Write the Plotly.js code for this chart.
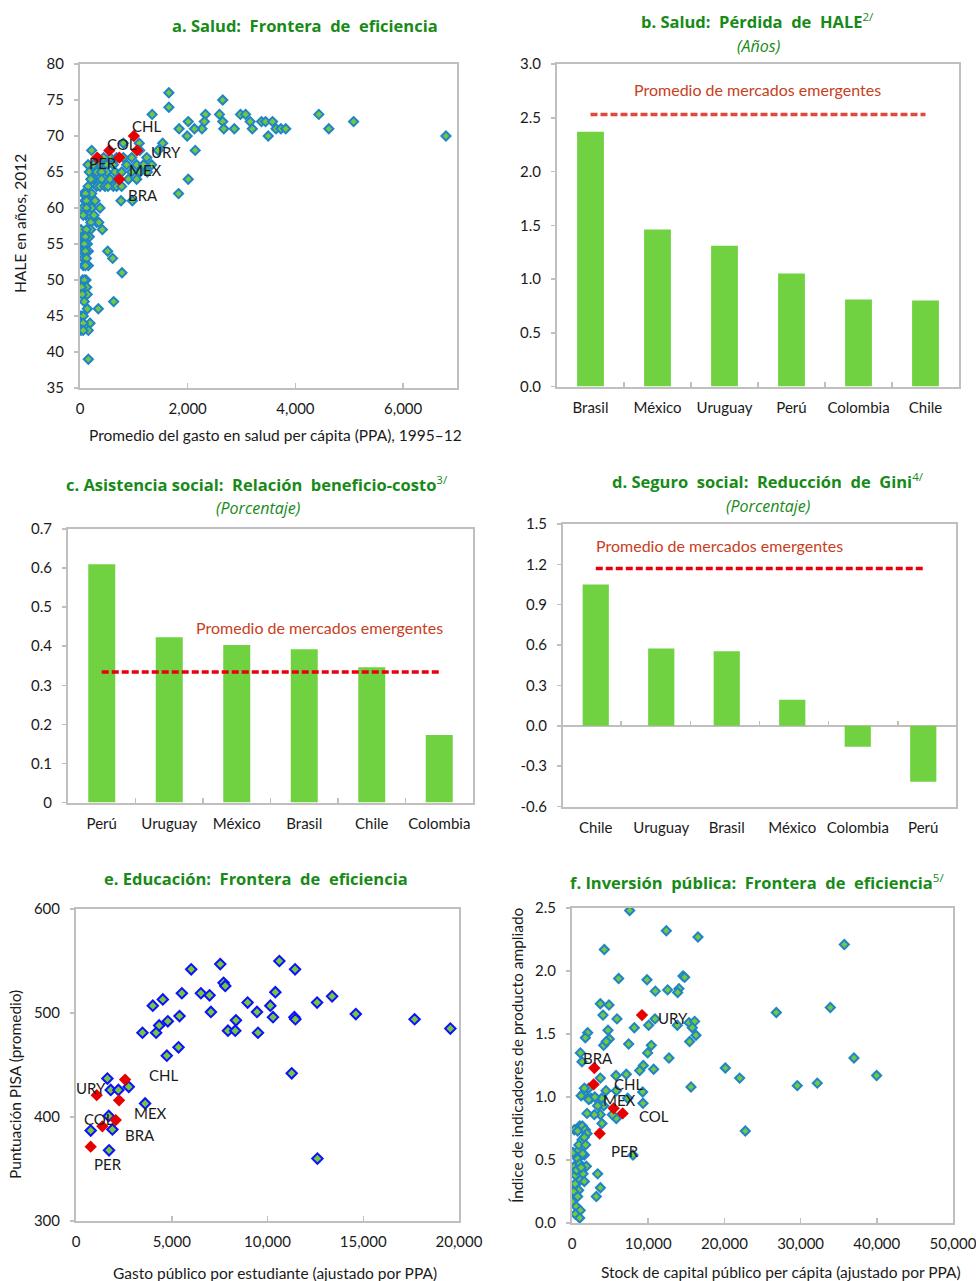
<!DOCTYPE html>
<html>
<head>
<meta charset="utf-8">
<script src="https://cdn.plot.ly/plotly-3.0.1.min.js"></script>
<style>html,body{margin:0;padding:0;background:#fff}</style>
</head>
<body>
<div id="chart" style="width:976px;height:1281px"></div>
<script>
// ---------------- a. Salud: frontera de eficiencia ----------------
const healthSpend = [1650,1650,1340,2650,2590,2330,2310,2010,2265,2125,1840,1990,2140,2010,1830,2650,2670,2865,2980,3075,3160,3200,3370,3445,3575,3495,3640,3730,3820,4435,4620,5080,6795,1535,1450,1100,1110,1240,1330,
  805,217,960,557,805,440,680,
  371,495,619,867,1052,1180,250,150,
  173,310,495,650,774,960,1114,400,1250,
  248,402,557,898,1052,700,200,
  310,371,464,619,681,774,150,520,
  136,217,62,100,
  93,173,279,761,972,120,
  50,217,371,120,
  111,186,260,60,
  310,350,200,
  19,198,415,120,
  50,173,100,
  31,136,80,
  50,155,514,100,
  62,607,120,
  62,155,100,
  780,
  111,50,80,
  80,124,30,
  62,136,40,
  80,625,
  136,340,
  19,60,
  19,186,60,
  19,155,60,
  155];
const healthHale = [76,74,73,75,73,73,72,72,71,71,71,70,68,64,62,72,71,71,73,73,72,71,72,72,72,70,71,71,71,73,71,72,70,69,68,69,68,67,66,
  69,68,67,67,67,67,67,
  66,66,66,66,66,66,66,66,
  65,65,65,65,65,65,65,65,65,
  64,64,64,64,64,64,64,
  63,63,63,63,63,63,63,63,
  62,62,62,62,
  61,61,61,61,61,61,
  60,60,60,60,
  59,59,59,59,
  58,58,58,
  57,57,57,57,
  56,56,56,
  55,55,55,
  54,54,54,54,
  53,53,53,
  52,52,52,
  51,
  50,50,50,
  49,49,49,
  48,48,48,
  47,47,
  46,46,
  45,45,
  44,44,44,
  43,43,43,
  39];
const healthCodes = ['CHL','COL','URY','PER','MEX','BRA'];
const healthLatamSpend = [1000,545,1060,320,730,730];
const healthLatamHale = [70,68,68,67,67,64];

// ---------------- b. Salud: pérdida de HALE ----------------
const haleCountries = ['Brasil','México','Uruguay','Perú','Colombia','Chile'];
const haleLoss = [2.37,1.46,1.31,1.05,0.81,0.80];
const haleEmAvg = 2.53;

// ---------------- c. Asistencia social ----------------
const assistCountries = ['Perú','Uruguay','México','Brasil','Chile','Colombia'];
const assistRatio = [0.61,0.423,0.403,0.392,0.346,0.173];
const assistEmAvg = 0.334;

// ---------------- d. Seguro social ----------------
const giniCountries = ['Chile','Uruguay','Brasil','México','Colombia','Perú'];
const giniReduction = [1.05,0.575,0.555,0.193,-0.156,-0.416];
const giniEmAvg = 1.17;

// ---------------- e. Educación: frontera de eficiencia ----------------
const eduSpend = [1639,1813,2214,2755,3609,1709,767,1901,1726,3470,4010,4534,4185,4342,4795,4743,5353,5405,5527,6016,6521,6975,7045,7533,7707,7794,7934,8352,8317,8962,9451,9503,10148,10619,10410,10288,11439,11404,11456,11264,12589,12607,13374,14612,17681,19547];
const eduPisa = [437,426,426,429,413,401,387,388,368,481,507,513,481,488,492,459,467,497,519,542,519,517,501,547,529,526,483,493,483,510,501,481,507,550,520,496,542,496,494,442,510,360,516,499,494,485];
const eduCodes = ['CHL','URY','MEX','COL','BRA','PER'];
const eduLatamSpend = [2563,1081,2249,1377,2075,767];
const eduLatamPisa = [436,421,416,391,397,371.5];

// ---------------- f. Inversión pública: frontera de eficiencia ----------------
const capStock = [7567,12378,16534,4243,35736,6124,9842,14565,14785,10935,12553,14041,13866,3718,4855,4068,5905,10891,10060,8180,13822,15353,16096,15790,16272,15440,7436,4724,4899,4155,4500,2056,1750,1094,1312,10410,9929,9360,8879,10716,12729,7130,5774,3718,20120,22001,37004,39978,29568,32192,33898,26813,15616,22745,9273,9316,7305,5818,4461,3893,4155,3718,3937,5818,5293,2931,3368,1968,2493,1531,2187,1619,1200,2200,3000,8004,3368,3193,3718,
  306,1006,744,1356,1750,1968,1312,1619,131,875,1619,744,306,1006,1881,1443,437,1094,1619,875,219,744,0,569,1094,437,1006,600,1200,400,900,1400,1800];
const outputIndex = [2.48,2.32,2.27,2.17,2.21,1.94,1.93,1.96,1.95,1.84,1.85,1.86,1.83,1.74,1.73,1.65,1.62,1.62,1.57,1.55,1.57,1.59,1.60,1.55,1.49,1.44,1.42,1.53,1.46,1.41,1.44,1.51,1.47,1.35,1.28,1.41,1.35,1.25,1.21,1.22,1.31,1.18,1.17,1.15,1.23,1.15,1.31,1.17,1.09,1.11,1.71,1.67,1.08,0.73,1.04,0.95,0.99,1.05,1.05,0.99,0.93,0.86,0.79,0.83,0.86,0.86,0.93,0.87,0.99,1.03,1.07,1.07,1.01,0.98,1.00,0.54,0.39,0.21,0.28,
  0.74,0.77,0.73,0.77,0.74,0.71,0.66,0.68,0.56,0.58,0.54,0.51,0.45,0.47,0.45,0.39,0.38,0.34,0.33,0.26,0.25,0.21,0.17,0.13,0.10,0.07,0.04,0.42,0.44,0.31,0.62,0.55,0.62];
const capCodes = ['URY','BRA','CHL','MEX','COL','PER'];
const capLatamStock = [9185,2931,2843,5468,6649,3631];
const capLatamIndex = [1.65,1.23,1.10,0.91,0.87,0.71];

// ---------------- styling ----------------
const W = 976, H = 1281;
const TICK_FONT = 'Lato, "Open Sans", sans-serif';
const TITLE_FONT = '"Open Sans", "Noto Sans", sans-serif';
const GREEN_TITLE = '#178a17';
const BAR_GREEN = '#70d240';
const DIAMOND_FILL = '#72c83e';
const FRAME = '#bfbfbf';
const NOTE_RED = '#c8401e';

const px = (l, r) => [l / W, r / W];
const py = (top, bottom) => [1 - bottom / H, 1 - top / H];

function axisBase(extra) {
  return Object.assign({
    showline: true, mirror: true, linecolor: FRAME, linewidth: 2,
    showgrid: false, zeroline: false,
    tickfont: {family: TICK_FONT, size: 15, color: '#1a1a1a'},
    ticks: 'outside', ticklen: 4, tickcolor: FRAME, tickwidth: 1.5,
    ticklabeloverflow: 'allow',
    fixedrange: true
  }, extra);
}
function catAxis(domain, anchor) {
  return axisBase({domain, anchor, type: 'category', tickangle: 0, ticks: 'inside', tickson: 'boundaries', ticklen: 5, ticklabelstandoff: 6});
}
function numXAxis(domain, anchor, range, dtick) {
  return axisBase({domain, anchor, range, dtick, tick0: 0, ticks: 'inside', ticklen: 5, tickformat: ',', ticklabelstandoff: 6});
}
function numYAxis(domain, anchor, range, dtick, fmt) {
  const vals = [];
  for (let v = range[0]; v <= range[1] + 1e-9; v += dtick) vals.push(Math.round(v * 1000) / 1000);
  const txt = vals.map(v => fmt ? v.toFixed(fmt) : String(v));
  return axisBase({domain, anchor, range, tickvals: vals, ticktext: txt, ticklabelstandoff: 7});
}

function blueDiamonds(x, y, xa, ya, border, size) {
  return {type: 'scatter', mode: 'markers', x, y, xaxis: xa, yaxis: ya, hoverinfo: 'skip',
    marker: {symbol: 'diamond', size: size, color: DIAMOND_FILL, line: {color: border, width: 2}}};
}
function redDiamonds(x, y, xa, ya) {
  return {type: 'scatter', mode: 'markers', x, y, xaxis: xa, yaxis: ya, hoverinfo: 'skip',
    marker: {symbol: 'diamond', size: 9.5, color: '#e60000', line: {width: 0}}};
}
function bars(cats, vals, xa, ya) {
  return {type: 'bar', x: cats, y: vals, xaxis: xa, yaxis: ya, marker: {color: BAR_GREEN}, hoverinfo: 'skip'};
}
function avgLine(cats, avg, xa, ya, color) {
  return {type: 'scatter', mode: 'lines', x: cats, y: cats.map(() => avg), xaxis: xa, yaxis: ya,
    line: {color, width: 3.5, dash: '7px,3px'}, hoverinfo: 'skip'};
}

const data = [
  blueDiamonds(healthSpend, healthHale, 'x', 'y', '#1f84c8', 7),
  redDiamonds(healthLatamSpend, healthLatamHale, 'x', 'y'),
  bars(haleCountries, haleLoss, 'x2', 'y2'),
  avgLine(haleCountries, haleEmAvg, 'x2', 'y2', '#e04a3e'),
  bars(assistCountries, assistRatio, 'x3', 'y3'),
  avgLine(assistCountries, assistEmAvg, 'x3', 'y3', '#e8000e'),
  bars(giniCountries, giniReduction, 'x4', 'y4'),
  avgLine(giniCountries, giniEmAvg, 'x4', 'y4', '#e8000e'),
  // carries the category ticks that sit on the zero line of panel d
  {type: 'scatter', mode: 'markers', x: giniCountries, y: giniCountries.map(() => null), xaxis: 'x7', yaxis: 'y4', hoverinfo: 'skip', showlegend: false},
  blueDiamonds(eduSpend, eduPisa, 'x5', 'y5', '#1010ff', 8),
  redDiamonds(eduLatamSpend, eduLatamPisa, 'x5', 'y5'),
  blueDiamonds(capStock, outputIndex, 'x6', 'y6', '#1f84c8', 7),
  redDiamonds(capLatamStock, capLatamIndex, 'x6', 'y6')
];

function paperText(text, x, y, font, extra) {
  return Object.assign({xref: 'paper', yref: 'paper', x: x / W, y: 1 - y / H, text, showarrow: false,
    xanchor: 'center', yanchor: 'middle', font}, extra || {});
}
const titleFont = {family: TITLE_FONT, size: 16.5, color: GREEN_TITLE, weight: 700};
const subFont = {family: TITLE_FONT, size: 16, color: GREEN_TITLE};
const axTitleFont = {family: TICK_FONT, size: 15.5, color: '#1a1a1a'};
const noteFont = {family: TICK_FONT, size: 16, color: NOTE_RED};
const codeFont = {family: TICK_FONT, size: 15, color: '#1a1a1a'};
const sup = s => `<sup><span style="font-weight:normal">${s}</span></sup>`;

const annotations = [
  paperText('a. Salud:  Frontera  de  eficiencia', 305, 25, titleFont),
  paperText('b. Salud:  Pérdida  de  HALE' + sup('2/'), 757, 21, titleFont),
  paperText('<i>(Años)</i>', 758, 46, subFont),
  paperText('c. Asistencia social:  Relación  beneficio-costo' + sup('3/'), 257, 484, titleFont),
  paperText('<i>(Porcentaje)</i>', 258, 508, subFont),
  paperText('d. Seguro  social:  Reducción  de  Gini' + sup('4/'), 768, 481, titleFont),
  paperText('<i>(Porcentaje)</i>', 768, 506, subFont),
  paperText('e. Educación:  Frontera  de  eficiencia', 256, 878, titleFont),
  paperText('f. Inversión  pública:  Frontera  de  eficiencia' + sup('5/'), 757, 882, titleFont),

  paperText('HALE en años, 2012', 20, 224, axTitleFont, {textangle: -90}),
  paperText('Promedio del gasto en salud per cápita (PPA), 1995–12', 275, 435, axTitleFont),
  paperText('Puntuación PISA (promedio)', 15, 1085, axTitleFont, {textangle: -90}),
  paperText('Gasto público por estudiante (ajustado por PPA)', 275, 1273, axTitleFont),
  paperText('Índice de indicadores de producto ampliado', 517, 1055, axTitleFont, {textangle: -90}),
  paperText('Stock de capital público per cápita (ajustado por PPA)', 781, 1272, axTitleFont),

  paperText('Promedio de mercados emergentes', 757, 90, noteFont),
  paperText('Promedio de mercados emergentes', 319, 627, noteFont),
  paperText('Promedio de mercados emergentes', 719, 545, noteFont)
];

// country codes next to highlighted points (pixel offsets from each marker)
function codeLabels(codes, xs, ys, xa, ya, offsets) {
  codes.forEach((c, i) => {
    annotations.push({xref: xa, yref: ya, x: xs[i], y: ys[i], text: c, showarrow: false,
      xanchor: 'center', yanchor: 'middle', xshift: offsets[i][0], yshift: offsets[i][1], font: codeFont});
  });
}
codeLabels(healthCodes, healthLatamSpend, healthLatamHale, 'x', 'y',
  [[13, 10], [13, 6], [29, -2], [6, -5], [26, -12], [24, -16]]);
codeLabels(eduCodes, eduLatamSpend, eduLatamPisa, 'x5', 'y5',
  [[38, 5], [-6, 7], [31, -13], [-3, 7], [24, -15], [17, -17]]);
codeLabels(capCodes, capLatamStock, capLatamIndex, 'x6', 'y6',
  [[31, -3], [4, 10], [35, 0], [6, 8], [31, -3], [25, -17]]);

const dDomY = py(524, 806.5);
const dRange = [-0.6, 1.5];
const dZeroPos = dDomY[0] + (0 - dRange[0]) / (dRange[1] - dRange[0]) * (dDomY[1] - dDomY[0]);

const layout = {
  width: W, height: H,
  margin: {l: 0, r: 0, t: 0, b: 0},
  paper_bgcolor: '#fff', plot_bgcolor: '#fff',
  showlegend: false,
  bargap: 0.6,
  annotations,
  xaxis: numXAxis(px(80, 457), 'y', [0, 7000], 2000),
  yaxis: numYAxis(py(64, 388), 'x', [35, 80], 5, 0),
  xaxis2: catAxis(px(557, 959), 'y2'),
  yaxis2: numYAxis(py(64, 386.5), 'x2', [0, 3], 0.5, 1),
  xaxis3: catAxis(px(68, 473), 'y3'),
  yaxis3: numYAxis(py(529, 802.5), 'x3', [0, 0.7], 0.1, 0),
  xaxis4: Object.assign(catAxis(px(563, 956), 'y4'), {ticks: ''}),
  yaxis4: Object.assign(numYAxis(dDomY, 'x4', dRange, 0.3, 1), {zeroline: true, zerolinecolor: FRAME, zerolinewidth: 2}),
  xaxis7: {overlaying: 'x4', anchor: 'free', position: dZeroPos, type: 'category', side: 'bottom',
    categoryorder: 'array', categoryarray: giniCountries, tickson: 'boundaries', ticks: 'inside', ticklen: 5,
    tickcolor: FRAME, tickwidth: 1.5, showticklabels: false, showline: false, showgrid: false, zeroline: false, fixedrange: true},
  xaxis5: numXAxis(px(76, 459), 'y5', [0, 20000], 5000),
  yaxis5: numYAxis(py(909, 1221), 'x5', [300, 600], 100, 0),
  xaxis6: numXAxis(px(572, 953), 'y6', [0, 50000], 10000),
  yaxis6: numYAxis(py(908, 1223), 'x6', [0, 2.5], 0.5, 1)
};
// panel c labels its first tick as a plain "0"
layout.yaxis3.ticktext = layout.yaxis3.tickvals.map(v => v === 0 ? '0' : v.toFixed(1));

Plotly.newPlot('chart', data, layout, {staticPlot: true, displayModeBar: false});
</script>
</body>
</html>
